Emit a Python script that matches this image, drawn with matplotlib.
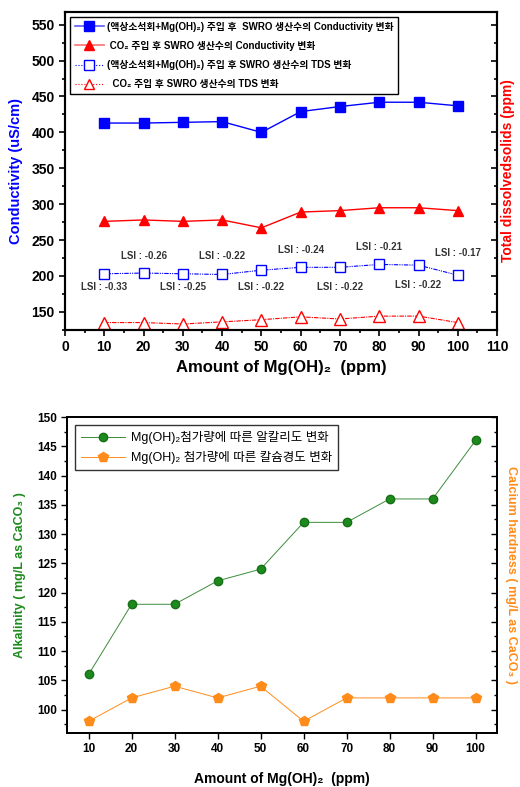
import matplotlib
matplotlib.use("Agg")
import matplotlib.pyplot as plt
from matplotlib.ticker import MultipleLocator
from matplotlib.lines import Line2D

plt.rcParams["font.family"] = ["Liberation Sans", "Noto Sans CJK KR", "DejaVu Sans"]

# 위 그래프 데이터
dose = [10, 20, 30, 40, 50, 60, 70, 80, 90, 100]
cond_lime = [413, 413, 414, 415, 400, 429, 436, 442, 442, 437]
cond_co2 = [276, 278, 276, 278, 267, 289, 291, 295, 295, 291]
tds_lime = [203, 204, 203, 202, 208, 212, 212, 216, 215, 201]
tds_co2 = [135, 135, 133, 136, 139, 143, 140, 144, 144, 135]
lsi = [-0.33, -0.26, -0.25, -0.22, -0.22, -0.24, -0.22, -0.21, -0.22, -0.17]
lsi_y = [184, 228, 184, 228, 184, 236, 184, 240, 187, 232]

legend_top = [
    "(액상소석회+Mg(OH)₂) 주입 후  SWRO 생산수의 Conductivity 변화",
    " CO₂ 주입 후 SWRO 생산수의 Conductivity 변화",
    "(액상소석회+Mg(OH)₂) 주입 후 SWRO 생산수의 TDS 변화",
    "  CO₂ 주입 후 SWRO 생산수의 TDS 변화",
]

# 아래 그래프 데이터
alkalinity = [106, 118, 118, 122, 124, 132, 132, 136, 136, 146]
ca_hardness = [98, 102, 104, 102, 104, 98, 102, 102, 102, 102]
legend_bottom = [
    "Mg(OH)₂첨가량에 따른 알칼리도 변화",
    "Mg(OH)₂ 첨가량에 따른 칼슘경도 변화",
]

BLUE = "#0000FF"
RED = "#FF0000"
GREEN = "#1E8A1E"
ORANGE = "#FF8C1A"

fig = plt.figure(figsize=(5.2, 7.87), dpi=100)

# ---------------- 위 그래프 ----------------
ax1 = fig.add_axes([0.125, 0.581, 0.831, 0.404])
ax1.plot(dose, cond_lime, color=BLUE, lw=1.0, marker="s", ms=6.5)
ax1.plot(dose, cond_co2, color=RED, lw=1.0, marker="^", ms=7.5)
ax1.plot(dose, tds_lime, color=BLUE, lw=0.8, ls=(0, (4, 1, 1, 1, 1, 1)),
         marker="s", ms=6.5, mfc="white", mew=1.0)
ax1.plot(dose, tds_co2, color=RED, lw=0.8, ls=(0, (4, 1, 1, 1)),
         marker="^", ms=8, mfc="white", mew=1.0)

for x, v, y in zip(dose, lsi, lsi_y):
    ax1.text(x, y, f"LSI : {v:.2f}", ha="center", va="center",
             fontsize=7, fontweight="bold", color="#333333")

ax1.set_xlim(0, 110)
ax1.set_ylim(125, 568)
ax1.xaxis.set_major_locator(MultipleLocator(10))
ax1.xaxis.set_minor_locator(MultipleLocator(5))
ax1.yaxis.set_major_locator(MultipleLocator(50))
ax1.yaxis.set_minor_locator(MultipleLocator(25))
ax1.set_yticks(range(150, 551, 50))
ax1.tick_params(axis="both", which="both", direction="out", width=1.2,
                labelsize=10)
ax1.tick_params(which="major", length=4)
ax1.tick_params(which="minor", length=2.5)
for lab in ax1.get_xticklabels() + ax1.get_yticklabels():
    lab.set_fontweight("bold")
for sp in ax1.spines.values():
    sp.set_linewidth(1.5)

ax1.set_xlabel("Amount of Mg(OH)₂  (ppm)", fontsize=12, fontweight="bold",
               labelpad=4)
ax1.set_ylabel("Conductivity (uS/cm)", fontsize=10.5, fontweight="bold",
               color=BLUE, labelpad=6)

ax1r = ax1.twinx()
ax1r.set_ylim(ax1.get_ylim())
ax1r.yaxis.set_major_locator(MultipleLocator(50))
ax1r.yaxis.set_minor_locator(MultipleLocator(25))
ax1r.tick_params(axis="y", which="both", direction="in", width=1.2,
                 labelright=False)
ax1r.tick_params(which="major", length=4)
ax1r.tick_params(which="minor", length=2.5)
ax1r.set_ylabel("Total dissolvedsolids (ppm)", fontsize=10,
                fontweight="bold", color=RED, rotation=90, labelpad=3)
for sp in ax1r.spines.values():
    sp.set_linewidth(1.5)

handles_top = [
    Line2D([], [], color="#5A5AFF", lw=1.2, marker="s", ms=6.5, mfc=BLUE, mec=BLUE),
    Line2D([], [], color="#FF7070", lw=1.2, marker="^", ms=7.5, mfc=RED, mec=RED),
    Line2D([], [], color=BLUE, lw=0.8, ls=":", marker="s", ms=6.5, mfc="white", mec=BLUE),
    Line2D([], [], color=RED, lw=0.8, ls=":", marker="^", ms=7.5, mfc="white", mec=RED),
]
leg1 = ax1.legend(handles_top, legend_top, loc="upper left",
                  bbox_to_anchor=(0.0, 1.0), fancybox=False, framealpha=1,
                  edgecolor="black", borderpad=0.5, labelspacing=0.95,
                  handlelength=3.0, handletextpad=0.3,
                  prop={"size": 7, "weight": "bold"})
leg1.get_frame().set_linewidth(1.0)

# ---------------- 아래 그래프 ----------------
ax2 = fig.add_axes([0.129, 0.0686, 0.827, 0.4015])
ax2.plot(dose, alkalinity, color="#3C8C3C", lw=0.7, marker="o", ms=6,
         mfc=GREEN, mec="#157015")
ax2.plot(dose, ca_hardness, color=ORANGE, lw=0.7, marker="p", ms=7.5,
         mfc=ORANGE, mec=ORANGE)

ax2.set_xlim(5, 105)
ax2.set_ylim(96, 150)
ax2.set_xticks(dose)
ax2.yaxis.set_major_locator(MultipleLocator(5))
ax2.yaxis.set_minor_locator(MultipleLocator(2.5))
ax2.set_yticks(range(100, 151, 5))
ax2.tick_params(axis="both", which="both", direction="out", width=1.0,
                labelsize=8.5)
ax2.tick_params(which="major", length=4)
ax2.tick_params(which="minor", length=2)
for lab in ax2.get_xticklabels() + ax2.get_yticklabels():
    lab.set_fontweight("bold")
for sp in ax2.spines.values():
    sp.set_linewidth(1.3)

ax2.set_xlabel("Amount of Mg(OH)₂  (ppm)", fontsize=10, fontweight="bold",
               labelpad=12)
ax2.set_ylabel("Alkalinity ( mg/L as CaCO₃ )", fontsize=9, fontweight="bold",
               color=GREEN, labelpad=8)

ax2r = ax2.twinx()
ax2r.set_ylim(ax2.get_ylim())
ax2r.yaxis.set_major_locator(MultipleLocator(5))
ax2r.yaxis.set_minor_locator(MultipleLocator(2.5))
ax2r.tick_params(axis="y", which="both", direction="in", width=1.0,
                 labelright=False)
ax2r.tick_params(which="major", length=4)
ax2r.tick_params(which="minor", length=2)
ax2r.set_ylabel("Calcium hardness ( mg/L as CaCO₃ )", fontsize=9,
                fontweight="bold", color=ORANGE, rotation=-90, labelpad=14)
for sp in ax2r.spines.values():
    sp.set_linewidth(1.3)

handles_bottom = [
    Line2D([], [], color="#3C8C3C", lw=0.7, marker="o", ms=6, mfc=GREEN, mec="#157015"),
    Line2D([], [], color=ORANGE, lw=0.7, marker="p", ms=7.5, mfc=ORANGE, mec=ORANGE),
]
leg2 = ax2.legend(handles_bottom, legend_bottom, loc="upper left",
                  bbox_to_anchor=(0.005, 0.993), fancybox=False, framealpha=1,
                  edgecolor="#333333", borderpad=0.45, labelspacing=0.55,
                  handlelength=3.5, handletextpad=0.5,
                  prop={"size": 9})
leg2.get_frame().set_linewidth(1.0)

fig.savefig("out.png", dpi=100)
